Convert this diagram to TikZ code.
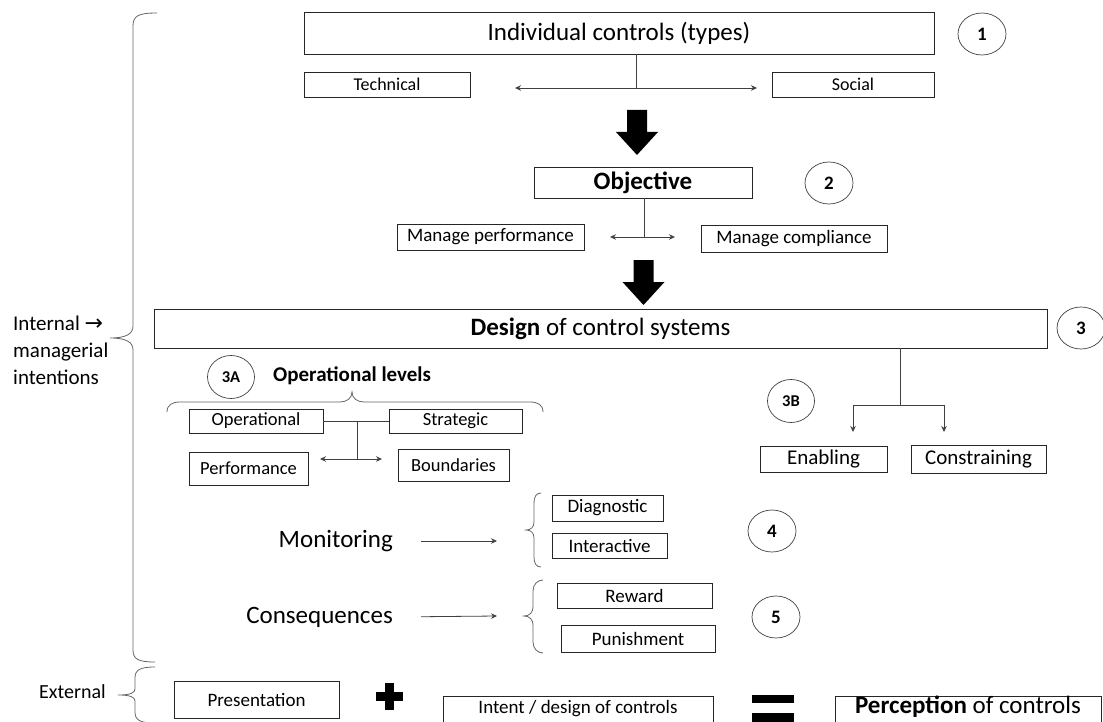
\documentclass[tikz,border=0pt]{standalone}
\usepackage{fontspec}
\setmainfont{Carlito}
\newfontfamily\arrowfont{DejaVu Sans}
\usetikzlibrary{arrows.meta,shapes.geometric}

\begin{document}
\begin{tikzpicture}[x=1pt, y=-1pt,
  box/.style={draw=black!85, line width=0.8pt, inner sep=0pt, align=center},
  num/.style={ellipse, draw=black!75, line width=0.7pt, minimum width=48pt,
              minimum height=42pt, inner sep=0pt, font=\fontsize{19}{22}\selectfont\bfseries},
  ln/.style={draw=black!75, line width=0.8pt},
  arr/.style={ln, -{Stealth[length=6pt,width=5.5pt]}},
  dbl/.style={ln, {Stealth[length=6pt,width=5.5pt]}-{Stealth[length=6pt,width=5.5pt]}},
  brc/.style={draw=black!60, line width=0.8pt},
  bigdown/.pic={\fill (-10,0) -- (10,0) -- (10,22) -- (21,22) -- (0,45) -- (-21,22) -- (-10,22) -- cycle;}
]
\clip (0,0) rectangle (1103,722);

% types of controls
\node[box, minimum width=630pt, minimum height=42pt, font=\fontsize{25}{30}\selectfont] (ctrl) at (619,33) {Individual controls (types)};
\node[num] (n1) at (982,34) {1};
\node[box, minimum width=166pt, minimum height=25pt, font=\fontsize{18}{22}\selectfont] (tech) at (387,84.5) {Technical};
\node[box, minimum width=162pt, minimum height=25pt, font=\fontsize{18}{22}\selectfont] (soc) at (853,84.5) {Social};
\coordinate (jt) at (636,88);
\coordinate (tl) at (515,88);
\coordinate (tr) at (757,88);
\draw[ln] (ctrl.south -| jt) -- (jt);
\draw[dbl] (tl) -- (tr);
\pic at (637,110) {bigdown};

% objective
\node[box, minimum width=218pt, minimum height=31pt, font=\fontsize{25}{29}\selectfont\bfseries] (obj) at (643,182.5) {Objective};
\node[num] (n2) at (829,183) {2};
\node[box, minimum width=187pt, minimum height=26pt, font=\fontsize{19}{23}\selectfont] (mperf) at (490.5,237) {Manage performance};
\node[box, minimum width=186pt, minimum height=27pt, font=\fontsize{19}{23}\selectfont] (mcomp) at (794,238.5) {Manage compliance};
\coordinate (jo) at (644,237);
\coordinate (ol) at (610,237);
\coordinate (or) at (675,237);
\draw[ln] (obj.south -| jo) -- (jo);
\draw[dbl] (ol) -- (or);
\pic at (643.5,260) {bigdown};

% design
\node[box, minimum width=893pt, minimum height=39pt, font=\fontsize{25}{30}\selectfont] (des) at (600.5,328.5) {\textbf{Design} of control systems};
\node[num] (n3) at (1081,328) {3};

% 3A
\node[num, minimum width=47pt, minimum height=43pt, font=\fontsize{16.5}{20}\selectfont\bfseries] (n3a) at (231,377) {3A};
\node[anchor=west, inner sep=0pt, font=\fontsize{21}{25}\selectfont\bfseries] (oplev) at (273,376) {Operational levels};
\draw[brc] (167,412) .. controls (167,405) and (172,402) .. (180,402) -- (340,402)
  .. controls (347,402) and (352,398) .. (352,392) .. controls (352,398) and (357,402) .. (364,402)
  -- (530,402) .. controls (538,402) and (543,405) .. (543,412);
\node[box, minimum width=134pt, minimum height=24pt, font=\fontsize{18.5}{22}\selectfont] (oper) at (256,421) {Operational};
\node[box, minimum width=133pt, minimum height=24pt, font=\fontsize{18.5}{22}\selectfont] (strat) at (455.5,421) {Strategic};
\node[box, minimum width=119pt, minimum height=33pt, font=\fontsize{18.5}{22}\selectfont] (perf) at (248.5,468.5) {Performance};
\node[box, minimum width=111pt, minimum height=32pt, font=\fontsize{18.5}{22}\selectfont] (bound) at (453.5,465) {Boundaries};
\coordinate (ja) at (357,459);
\coordinate (al) at (320,459);
\coordinate (ar) at (382,459);
\draw[ln] (oper) -- (strat);
\draw[ln] (oper -| ja) -- (ja);
\draw[dbl] (al) -- (ar);

% 3B
\node[num, minimum width=47pt, minimum height=43pt, font=\fontsize{16.5}{20}\selectfont\bfseries] (n3b) at (791,401) {3B};
\node[box, minimum width=127pt, minimum height=26pt, font=\fontsize{21}{25}\selectfont] (enab) at (823.5,459) {Enabling};
\node[box, minimum width=135pt, minimum height=28pt, font=\fontsize{21}{25}\selectfont] (cons) at (978.5,459) {Constraining};
\coordinate (jb) at (900,405);
\coordinate (ea) at (853,432);
\coordinate (ca) at (944,432);
\draw[ln] (des.south -| jb) -- (jb);
\draw[arr] (jb) -| (ea);
\draw[arr] (jb) -| (ca);

% monitoring
\node[anchor=east, inner sep=0pt, font=\fontsize{25}{30}\selectfont] (mon) at (393,541) {Monitoring};
\coordinate (b4) at (497,541);
\draw[arr, shorten <=28pt] (mon.east) -- (b4);
\draw[brc] (541,493) .. controls (536,493) and (534,497) .. (534,503) -- (534,522)
  .. controls (534,527) and (531,530) .. (526,530) .. controls (531,530) and (534,533) .. (534,538)
  -- (534,557) .. controls (534,563) and (536,567) .. (541,567);
\node[box, minimum width=111pt, minimum height=26pt, font=\fontsize{19}{23}\selectfont] (diag) at (607.5,508) {Diagnostic};
\node[box, minimum width=115pt, minimum height=25pt, font=\fontsize{19}{23}\selectfont] (inter) at (609.5,545.5) {Interactive};
\node[num] (n4) at (772,531) {4};

% consequences
\node[anchor=east, inner sep=0pt, font=\fontsize{25}{30}\selectfont] (conq) at (393,617) {Consequences};
\coordinate (b5) at (497,616);
\draw[arr, shorten <=28pt] (conq.east) -- (b5);
\draw[brc] (543,580) .. controls (538,580) and (533,584) .. (533,591) -- (533,607)
  .. controls (533,612) and (530,616) .. (524,616) .. controls (530,616) and (533,620) .. (533,625)
  -- (533,642) .. controls (533,649) and (538,653) .. (543,653);
\node[box, minimum width=155pt, minimum height=25pt, font=\fontsize{19}{23}\selectfont] (rew) at (634.5,595.5) {Reward};
\node[box, minimum width=154pt, minimum height=27pt, font=\fontsize{19}{23}\selectfont] (pun) at (638,638.5) {Punishment};
\node[num] (n5) at (776,617) {5};

% internal / external
\draw[brc] (157,13) .. controls (138,13) and (133,16) .. (133,26) -- (133,326)
  .. controls (133,334) and (126,338) .. (110,338) .. controls (126,338) and (133,342) .. (133,350)
  -- (133,650) .. controls (133,659) and (138,662) .. (155,662);
\node[anchor=west, align=left, inner sep=0pt, font=\fontsize{21}{27}\selectfont] (intl) at (13,350) {Internal {\arrowfont\fontsize{22}{27}\selectfont →}\\managerial\\intentions};
\draw[brc] (155,667) .. controls (140,667) and (135,670) .. (135,678) -- (135,689)
  .. controls (135,693) and (130,695) .. (118,695) .. controls (130,695) and (135,697) .. (135,701)
  -- (135,712) .. controls (135,720) and (140,723) .. (155,723);
\node[anchor=east, inner sep=0pt, font=\fontsize{20}{24}\selectfont] (ext) at (106,692) {External};

% perception
\node[box, minimum width=165pt, minimum height=37pt, font=\fontsize{19}{23}\selectfont] (pres) at (256.5,699.5) {Presentation};
\fill (385,683) rectangle (394,710);
\fill (376,692) rectangle (403,701);
\node[box, anchor=north, minimum width=270pt, text height=17pt, text depth=20pt, font=\fontsize{19}{23}\selectfont] (intent) at (578,696) {Intent / design of controls};
\fill (752,695) rectangle (794,703);
\fill (752,713) rectangle (794,722);
\node[box, anchor=north, minimum width=266pt, text height=17pt, text depth=20pt, font=\fontsize{25}{30}\selectfont] (perc) at (968,696) {\textbf{Perception} of controls};
\end{tikzpicture}
\end{document}
